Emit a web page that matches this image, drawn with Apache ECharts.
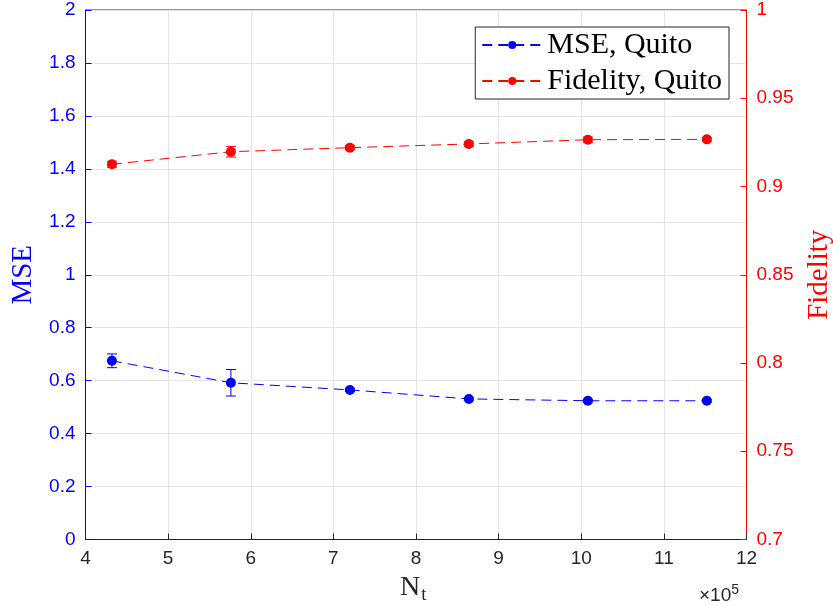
<!DOCTYPE html>
<html>
<head>
<meta charset="utf-8">
<script src="https://cdn.jsdelivr.net/npm/echarts@6/dist/echarts.min.js"></script>
<style>
    html, body { margin: 0; padding: 0; background: #fff; }
    #chart { width: 833px; height: 606px; }
</style>
</head>
<body>
<div id="chart"></div>
<script>
    // N_t in units of 1e5
    const nt = [4.32, 5.76, 7.20, 8.64, 10.08, 11.52];
    const mse = [0.675, 0.592, 0.565, 0.531, 0.524, 0.524];
    const mseErr = [0.026, 0.050, 0.006, 0.005, 0.005, 0.005];
    const fidelity = [0.9126, 0.9197, 0.9220, 0.9241, 0.9265, 0.9267];
    const fidelityErr = [0.0017, 0.0030, 0.0012, 0.0015, 0.0015, 0.0010];

    const serif = "'Liberation Serif', 'DejaVu Serif', serif";
    const sans = "'Liberation Sans', Arial, sans-serif";

    function errBars(vals, errs) {
        return nt.map((x, i) => [x, vals[i] - errs[i], vals[i] + errs[i]]);
    }

    function errRender(color) {
        return function (params, api) {
            const lo = api.coord([api.value(0), api.value(1)]);
            const hi = api.coord([api.value(0), api.value(2)]);
            const w = 5;
            const style = { stroke: color, lineWidth: 1 };
            return {
                type: 'group',
                children: [
                    { type: 'line', shape: { x1: lo[0], y1: lo[1], x2: hi[0], y2: hi[1] }, style: style },
                    { type: 'line', shape: { x1: lo[0] - w, y1: lo[1], x2: lo[0] + w, y2: lo[1] }, style: style },
                    { type: 'line', shape: { x1: hi[0] - w, y1: hi[1], x2: hi[0] + w, y2: hi[1] }, style: style }
                ]
            };
        };
    }

    const chart = echarts.init(document.getElementById('chart'));
    const option = {
        animation: false,
        grid: {
            left: 85.5, right: 86.5, top: 10, bottom: 66.5,
            outerBoundsMode: 'none',
            show: true, borderColor: '#262626', borderWidth: 1, backgroundColor: '#fff'
        },
        legend: {
            right: 104, top: 27,
            orient: 'vertical',
            backgroundColor: '#fff',
            borderColor: '#262626',
            borderWidth: 1,
            padding: [3, 7, 3, 6],
            itemGap: 6,
            itemWidth: 60,
            itemHeight: 10,
            textStyle: { fontFamily: serif, fontSize: 30, color: '#000' },
            data: ['MSE, Quito', 'Fidelity, Quito']
        },
        xAxis: {
            type: 'value',
            min: 4, max: 12, interval: 1,
            axisLine: { lineStyle: { color: '#262626' } },
            axisTick: { inside: true, length: 6, lineStyle: { color: '#262626' } },
            axisLabel: { fontFamily: sans, fontSize: 19, color: '#262626', margin: 10 },
            splitLine: { show: true, lineStyle: { color: '#e3e3ea' } }
        },
        yAxis: [{
            type: 'value',
            min: 0, max: 2, interval: 0.2,
            name: 'MSE',
            nameLocation: 'middle',
            nameGap: 48,
            nameTextStyle: { fontFamily: serif, fontSize: 29, color: '#0000ff' },
            axisLine: { show: true, lineStyle: { color: '#0000ff' } },
            axisTick: { show: true, inside: true, length: 6, lineStyle: { color: '#0000ff' } },
            axisLabel: { fontFamily: sans, fontSize: 19, color: '#0000ff', margin: 10 },
            splitLine: { show: true, lineStyle: { color: '#e3e3ea' } }
        }, {
            type: 'value',
            min: 0.7, max: 1, interval: 0.05,
            name: 'Fidelity',
            nameLocation: 'middle',
            nameGap: 58,
            nameRotate: 90,
            nameTextStyle: { fontFamily: serif, fontSize: 29, color: '#ff0000' },
            axisLine: { show: true, lineStyle: { color: '#ff0000' } },
            axisTick: { show: true, inside: true, length: 6, lineStyle: { color: '#ff0000' } },
            axisLabel: { fontFamily: sans, fontSize: 19, color: '#ff0000', margin: 10 },
            splitLine: { show: false }
        }],
        series: [{
            name: 'MSE, Quito',
            type: 'line',
            yAxisIndex: 0,
            data: nt.map((x, i) => [x, mse[i]]),
            symbol: 'circle',
            symbolSize: 10,
            itemStyle: { color: '#0000ff' },
            lineStyle: { color: '#0000ff', width: 1, type: [10, 6] },
            z: 3
        }, {
            name: 'Fidelity, Quito',
            type: 'line',
            yAxisIndex: 1,
            data: nt.map((x, i) => [x, fidelity[i]]),
            symbol: 'circle',
            symbolSize: 10,
            itemStyle: { color: '#ff0000' },
            lineStyle: { color: '#ff0000', width: 1, type: [10, 6] },
            z: 3
        }, {
            type: 'custom',
            yAxisIndex: 0,
            renderItem: errRender('#0000ff'),
            encode: { x: 0, y: [1, 2] },
            data: errBars(mse, mseErr),
            z: 2
        }, {
            type: 'custom',
            yAxisIndex: 1,
            renderItem: errRender('#ff0000'),
            encode: { x: 0, y: [1, 2] },
            data: errBars(fidelity, fidelityErr),
            z: 2
        }],
        graphic: [{
            type: 'text',
            left: 400, top: 574,
            style: {
                text: 'N{s|t}',
                font: '28px ' + serif,
                fill: '#262626',
                rich: { s: { fontSize: 19, fontFamily: serif, fill: '#262626', verticalAlign: 'bottom', padding: [14, 0, 0, 1] } }
            }
        }, {
            type: 'text',
            left: 699, top: 583,
            style: {
                text: '×10{s|5}',
                font: '19px ' + sans,
                fill: '#262626',
                rich: { s: { fontSize: 14, fontFamily: sans, fill: '#262626', verticalAlign: 'top', padding: [0, 0, 12, 0] } }
            }
        }]
    };
    chart.setOption(option);
</script>
</body>
</html>
